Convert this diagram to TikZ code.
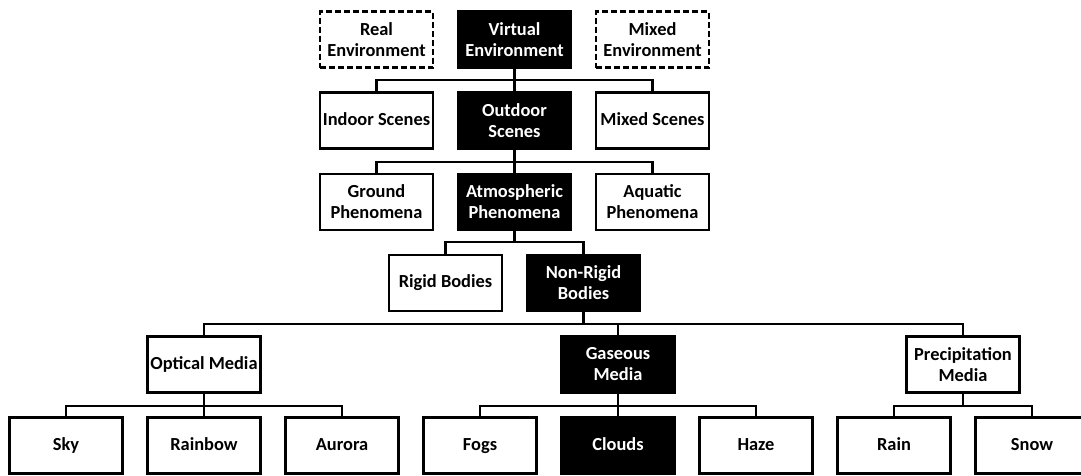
\documentclass[tikz,border=0pt]{standalone}
\usepackage{fontspec}
\setmainfont{Carlito}
\begin{document}
\begin{tikzpicture}[x=1pt, y=-1pt,
  box/.style={draw=black, line width=2.2pt, fill=white, text=black,
    minimum width=113pt, minimum height=56pt, inner sep=0pt, align=center,
    font=\fontsize{18.4}{21}\selectfont\bfseries},
  dark/.style={box, fill=black, text=white},
  dashbox/.style={box, dash pattern=on 6pt off 3pt},
  oneline/.style={text height=13pt, text depth=4pt},
  link/.style={line width=2.2pt, line join=miter}]
\clip (0,0) rectangle (1081,475);
\fill[white] (0,0) rectangle (1081,475);

% level 1: environments
\node[dashbox] (real)  at (376.5,39.5) {Real\\Environment};
\node[dark]    (virt)  at (514.5,39.5) {Virtual\\Environment};
\node[dashbox] (mixe)  at (652.5,39.5) {Mixed\\Environment};

% level 2: scenes
\node[box,oneline]  (indoor)  at (376.5,120.5) {Indoor Scenes};
\node[dark] (outdoor) at (514.5,120.5) {Outdoor\\Scenes};
\node[box,oneline]  (mixs)    at (652.5,120.5) {Mixed Scenes};

% level 3: phenomena
\node[box]  (ground) at (376.5,202) {Ground\\Phenomena};
\node[dark] (atmos)  at (514.5,202) {Atmospheric\\Phenomena};
\node[box]  (aqua)   at (652.5,202) {Aquatic\\Phenomena};

% level 4: bodies
\node[box,oneline]  (rigid)    at (445.5,283) {Rigid Bodies};
\node[dark] (nonrigid) at (583.5,283) {Non-Rigid\\Bodies};

% level 5: media
\node[box,oneline]  (optical) at (204,364.5) {Optical Media};
\node[dark] (gas)     at (618,364.5) {Gaseous\\Media};
\node[box]  (precip)  at (963,364.5) {Precipitation\\Media};

% level 6: leaves
\node[box,oneline]  (sky)     at (66,445.5)   {Sky};
\node[box,oneline]  (rainbow) at (204,445.5)  {Rainbow};
\node[box,oneline]  (aurora)  at (342,445.5)  {Aurora};
\node[box,oneline]  (fogs)    at (480,445.5)  {Fogs};
\node[dark,oneline] (clouds)  at (618,445.5)  {Clouds};
\node[box,oneline]  (haze)    at (756,445.5)  {Haze};
\node[box,oneline]  (rain)    at (894,445.5)  {Rain};
\node[box,oneline]  (snow)    at (1032,445.5) {Snow};

% bus heights between levels
\coordinate (busA) at (0,80);
\coordinate (busB) at (0,162);
\coordinate (busC) at (0,242);
\coordinate (busD) at (0,324);
\coordinate (busE) at (0,406);

% connectors
\foreach \c in {indoor,outdoor,mixs}
  \draw[link] (virt.south) -- (virt.south |- busA) -| (\c.north);
\foreach \c in {ground,atmos,aqua}
  \draw[link] (outdoor.south) -- (outdoor.south |- busB) -| (\c.north);
\foreach \c in {rigid,nonrigid}
  \draw[link] (atmos.south) -- (atmos.south |- busC) -| (\c.north);
\foreach \c in {optical,gas,precip}
  \draw[link] (nonrigid.south) -- (nonrigid.south |- busD) -| (\c.north);
\foreach \c in {sky,rainbow,aurora}
  \draw[link] (optical.south) -- (optical.south |- busE) -| (\c.north);
\foreach \c in {fogs,clouds,haze}
  \draw[link] (gas.south) -- (gas.south |- busE) -| (\c.north);
\foreach \c in {rain,snow}
  \draw[link] (precip.south) -- (precip.south |- busE) -| (\c.north);
\end{tikzpicture}
\end{document}
